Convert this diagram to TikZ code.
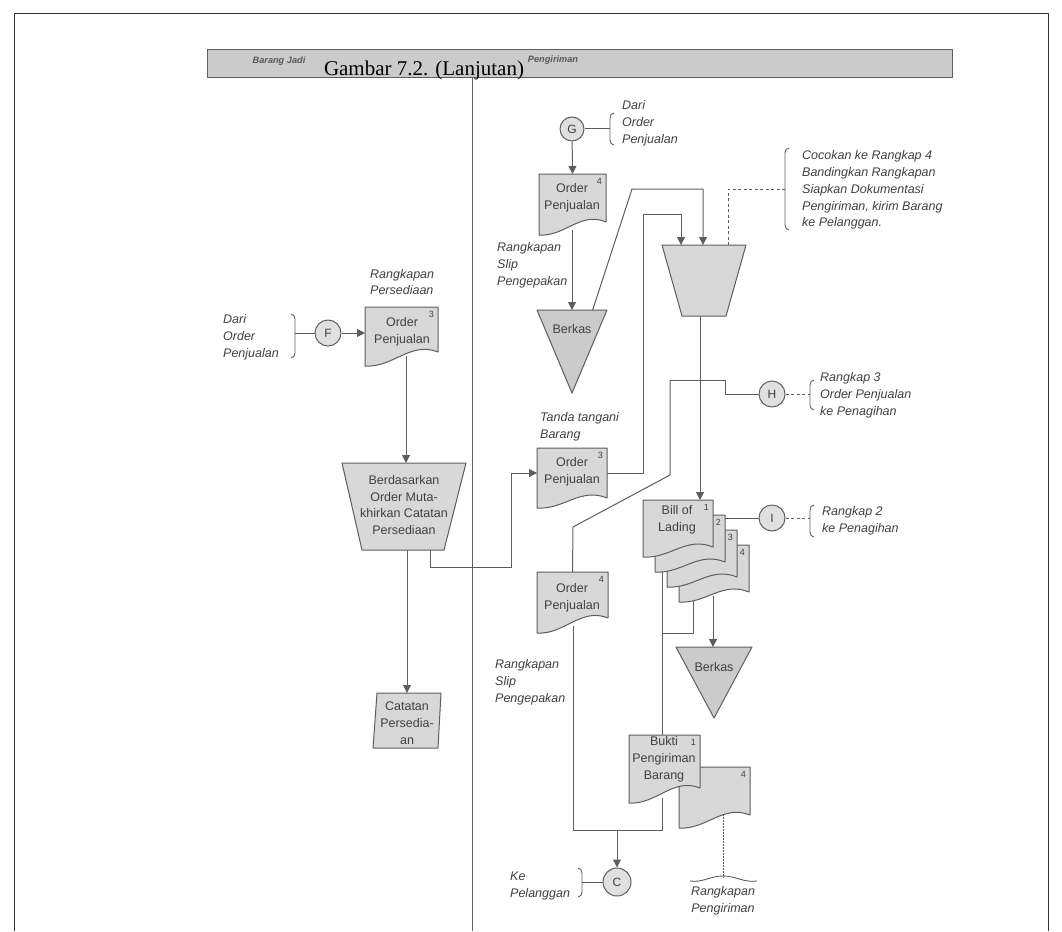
\documentclass[tikz,border=0pt]{standalone}
\usepackage{fontspec}
\setmainfont{Liberation Serif}
\setsansfont{Liberation Sans}
\usetikzlibrary{arrows.meta,calc}
\pgfdeclarelayer{bg}
\pgfsetlayers{bg,main}

\definecolor{ink}{HTML}{5E5E5E}
\definecolor{txt}{HTML}{404040}
\definecolor{docgray}{HTML}{D8D8D8}
\definecolor{filegray}{HTML}{CBCBCB}
\definecolor{bargray}{HTML}{CBCBCB}
\definecolor{circgray}{HTML}{E0E0E0}

\tikzset{
  wire/.style={draw=ink, line width=1pt},
  flowarrow/.style={wire, -{Triangle[width=8pt,length=8pt]}},
  dashwire/.style={draw=ink, line width=0.9pt, dash pattern=on 3pt off 2.5pt},
  dotwire/.style={draw=ink, line width=0.9pt, dash pattern=on 1.5pt off 1.5pt},
  thinwire/.style={draw=ink, line width=0.9pt},
  outerframe/.style={draw=black!80, line width=1pt},
  docfill/.style={draw=ink, line width=1pt, fill=docgray},
  filefill/.style={draw=ink, line width=1pt, fill=filegray},
  conn/.style={circle, draw=ink, line width=1pt, fill=circgray, minimum size=26pt,
    inner sep=0pt, text=txt, font=\sffamily\fontsize{12}{12}\selectfont},
  lbl/.style={inner sep=0pt, align=left, text=txt,
    font=\sffamily\itshape\fontsize{12.5}{16.8}\selectfont},
  boxtxt/.style={inner sep=0pt, align=center, text=txt,
    font=\sffamily\fontsize{12.5}{16.8}\selectfont},
  num/.style={inner sep=0pt, text=txt, font=\sffamily\fontsize{9}{9}\selectfont},
  lane/.style={inner sep=0pt, text=black!65, font=\sffamily\itshape\bfseries\fontsize{9.2}{9.2}\selectfont},
}

% document symbol: name, x, top y, width, right bottom y, left bottom y, copy number
\newcommand\doc[7]{%
  \draw[docfill] (#2,#3) -- ({#2+#4},#3) -- ({#2+#4},#5)
    .. controls ({#2+0.62*#4},{#5-11}) and ({#2+0.38*#4},{#6+2}) .. (#2,#6) -- cycle;
  \coordinate (#1-n) at ({#2+#4/2},#3);
  \coordinate (#1-w) at (#2,{(#3+#5)/2});
  \coordinate (#1-e) at ({#2+#4},{(#3+#5)/2});
  \node[num, anchor=north east] (#1-num) at ({#2+#4-4},{#3+4}) {#7};
}
% annotation brackets: x, top y, bottom y (hooks toward the text)
\newcommand\brkR[3]{%
  \draw[thinwire] ({#1+4},#2) to[out=180,in=90] (#1,{#2+5}) -- (#1,{#3-5})
    to[out=-90,in=180] ({#1+4},#3);}
\newcommand\brkL[3]{%
  \draw[thinwire] ({#1-4},#2) to[out=0,in=90] (#1,{#2+5}) -- (#1,{#3-5})
    to[out=-90,in=0] ({#1-4},#3);}

\begin{document}
\begin{tikzpicture}[x=1pt,y=-1pt,line join=round]
\useasboundingbox (0,0) rectangle (1062,931);

% page frame
\draw[outerframe] (14,931) -- (14,14) -- (1048,14) -- (1048,931);

% swimlane header
\node[draw=ink, line width=1.2pt, fill=bargray, minimum width=745pt, minimum height=28pt,
  inner sep=0pt, anchor=north west] (bar) at (207,49) {};
\node[lane] (laneL) at (279,61) {Barang Jadi};
\node[lane] (laneR) at (553,60) {Pengiriman};
\node[inner sep=0pt, anchor=base, font=\fontsize{21}{21}\selectfont] (title) at (424,76)
  {Gambar 7.2. (Lanjutan)};
\coordinate (divtop) at (472,78);
\coordinate (divbot) at (472,931);

% ---------------- Barang Jadi lane ----------------
\node[lbl, anchor=west] (dariF) at (223,337) {Dari\\Order\\Penjualan};
\brkL{295}{314}{358}
\coordinate (Fbr) at (295,333);
\node[conn] (F) at (328,333) {F};
\node[lbl, anchor=west] (rkpP) at (370,282) {Rangkapan\\Persediaan};
\doc{opA}{365}{307}{73}{352}{366}{3}
\node[boxtxt] (opAtxt) at (402,332) {Order\\Penjualan};
\coordinate (opAout) at (406,356);

\draw[docfill] (342,463) -- (466,463) -- (444,550) -- (362,550) -- cycle;
\node[boxtxt] (trA) at (404,505) {Berdasarkan\\Order Muta-\\khirkan Catatan\\Persediaan};
\coordinate (trAtop) at (406,463);
\coordinate (trAbotL) at (407,550);
\coordinate (trAbotR) at (430,550);
\coordinate (bendA) at (511,567);

\draw[docfill] (377,693) -- (441,693) -- (438,748) -- (373,748) -- cycle;
\node[boxtxt] (cat) at (407,723) {Catatan\\Persedia-\\an};
\coordinate (catTop) at (407,693);

% ---------------- Pengiriman lane ----------------
\node[conn, minimum size=24pt] (G) at (572,129) {G};
\brkR{610}{113}{145}
\coordinate (Gbr) at (610,129);
\node[lbl, anchor=west] (dariG) at (622,123) {Dari\\Order\\Penjualan};
\doc{opC}{539}{174}{67}{222}{235}{4}
\node[boxtxt] (opCtxt) at (572,198) {Order\\Penjualan};
\coordinate (opCout) at (572,230);
\node[lbl, anchor=west] (slip1) at (497,265) {Rangkapan\\Slip\\Pengepakan};

\draw[filefill] (537,310) -- (607,310) -- (572,393) -- cycle;
\node[boxtxt] (bk1) at (572,329) {Berkas};
\coordinate (bk1top) at (572,310);
\coordinate (bk1out) at (592,312);
\coordinate (p1) at (632,189);
\coordinate (p1b) at (703,189);

% packing / shipping step
\draw[docfill] (662,245) -- (746,245) -- (726,316) -- (682,316) -- cycle;
\coordinate (trBin1) at (681,245);
\coordinate (trBin2) at (703,245);
\coordinate (trBann) at (728,245);
\coordinate (trBout) at (700,316);
\coordinate (p2) at (643,214);
\brkR{785}{148}{230}
\coordinate (annbr) at (785,189);
\node[lbl, anchor=west] (ann) at (802,190)
  {Cocokan ke Rangkap 4\\Bandingkan Rangkapan\\Siapkan Dokumentasi\\Pengiriman, kirim Barang\\ke Pelanggan.};

\node[lbl, anchor=west] (ttd) at (540,427) {Tanda tangani\\Barang};
\doc{opB}{537}{448}{70}{498}{508}{3}
\node[boxtxt] (opBtxt) at (572,472) {Order\\Penjualan};

% H connector
\coordinate (q1) at (670,380);
\coordinate (q2) at (725,380);
\coordinate (q3) at (670,475);
\coordinate (q4) at (573,527);
\node[conn] (H) at (772,394) {H};
\brkR{810}{380}{410}
\coordinate (Hbr) at (810,394);
\node[lbl, anchor=west] (rkH) at (820,395) {Rangkap 3\\Order Penjualan\\ke Penagihan};

% bill of lading, four copies
\doc{bl4}{679}{545}{70}{592}{602}{4}
\doc{bl3}{667}{530}{70}{577}{587}{3}
\doc{bl2}{655}{515}{70}{562}{572}{2}
\doc{bl1}{643}{500}{70}{547}{557}{1}
\node[boxtxt] (bol) at (677,520) {Bill of\\Lading};
\coordinate (bolIn) at (700,500);
\coordinate (bl2e) at (725,518);
\coordinate (bl1out) at (662,560);
\coordinate (bl4outA) at (693,598);
\coordinate (bl4outB) at (713,596);
\coordinate (m1) at (662,633);

\node[conn] (I) at (772,518) {I};
\brkR{810}{505}{537}
\coordinate (Ibr) at (810,518);
\node[lbl, anchor=west] (rkI) at (822,521) {Rangkap 2\\ke Penagihan};

\draw[filefill] (676,647) -- (752,647) -- (714,718) -- cycle;
\node[boxtxt] (bk2) at (714,667) {Berkas};
\coordinate (bk2top) at (713,647);

% sales order copy 4 and shipping proof
\doc{opD}{537}{572}{71}{618}{633}{4}
\node[boxtxt] (opDtxt) at (572,598) {Order\\Penjualan};
\coordinate (opDout) at (573,626);
\node[lbl, anchor=west] (slip2) at (495,682) {Rangkapan\\Slip\\Pengepakan};

\doc{rk}{679}{767}{71}{815}{828}{4}
\doc{bkt}{629}{735}{71}{788}{803}{1}
\node[boxtxt] (bkttxt) at (664,759) {Bukti\\Pengiriman\\Barang};
\coordinate (bktTop) at (662,735);
\coordinate (bktout) at (662,798);
\coordinate (rkout) at (723,814);
\coordinate (rkbr) at (723,878);
\draw[thinwire] (690,881) to[out=-8,in=180] (723,876) to[out=0,in=188] (757,881);
\node[lbl, align=center] (rkP) at (723,901) {Rangkapan\\Pengiriman};

\coordinate (j1) at (573,830);
\coordinate (j2) at (662,830);
\coordinate (j3) at (617,830);
\node[conn, minimum size=28pt] (C) at (617,882) {C};
\brkL{582}{868}{897}
\coordinate (Cbr) at (582,882);
\node[lbl, anchor=west] (kePel) at (510,886) {Ke\\Pelanggan};

% ---------------- connectors ----------------
\begin{pgfonlayer}{bg}
\draw[wire] (divtop) -- (divbot);
\draw[wire] (Fbr) -- (F);
\draw[flowarrow] (F) -- (F -| opA-w);
\draw[flowarrow] (opAout) -- (trAtop);
\draw[flowarrow] (trAbotL) -- (catTop);
\draw[flowarrow] (trAbotR) |- (bendA) |- (opB-w);

\draw[wire] (G) -- (Gbr);
\draw[flowarrow] (G) -- (opC-n);
\draw[flowarrow] (opCout) -- (bk1top);
\draw[flowarrow] (bk1out) -- (p1) -- (p1b) -- (trBin2);
\draw[flowarrow] (opB-e) -| (p2) -| (trBin1);
\draw[dashwire] (trBann) |- (annbr);

\draw[flowarrow] (trBout) -- (bolIn);
\draw[wire] (q1) -- (q2) |- (H);
\draw[wire] (q1) -- (q3) -- (q4) -- (opD-n);
\draw[dashwire] (H) -- (Hbr);

\draw[wire] (bl2e) -- (I);
\draw[dashwire] (I) -- (Ibr);
\draw[wire] (bl1out) -- (bktTop);
\draw[wire] (bl4outA) |- (m1);
\draw[flowarrow] (bl4outB) -- (bk2top);
\draw[dotwire] (rkout) -- (rkbr);

\draw[wire] (opDout) -- (j1) -- (j2) -- (bktout);
\draw[flowarrow] (j3) -- (C);
\draw[wire] (Cbr) -- (C);
\end{pgfonlayer}
\end{tikzpicture}
\end{document}
